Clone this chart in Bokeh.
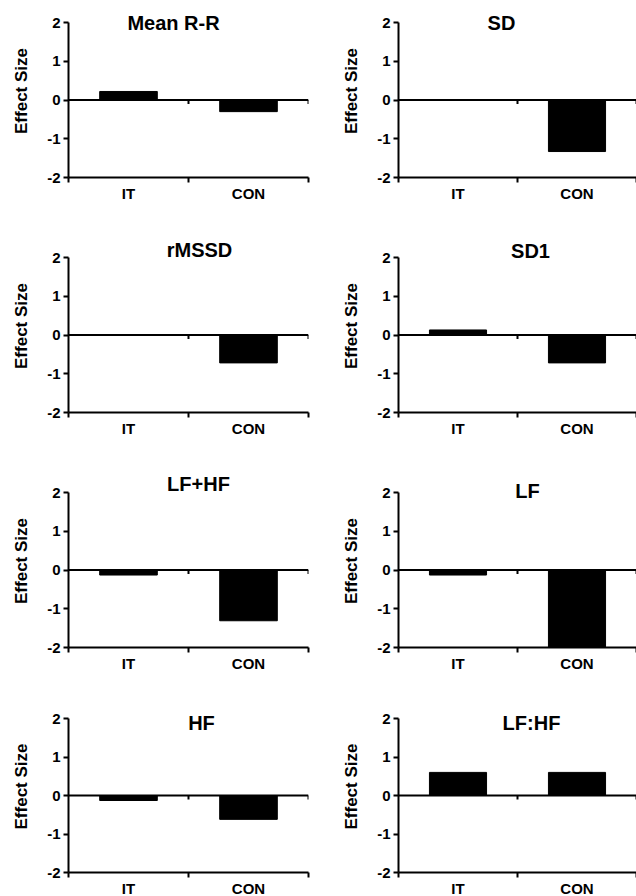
from bokeh.plotting import figure
from bokeh.models import Range1d, FixedTicker, Span, Label, ColumnDataSource
from bokeh.layouts import column, row
from bokeh.embed import file_html
from bokeh.resources import INLINE

# ---- data ----
groups = ["IT", "CON"]
titles = ["Mean R-R", "SD", "rMSSD", "SD1", "LF+HF", "LF", "HF", "LF:HF"]
it_values = [0.22, 0.0, 0.0, 0.13, -0.13, -0.13, -0.13, 0.6]
con_values = [-0.3, -1.33, -0.72, -0.72, -1.31, -2.0, -0.62, 0.6]
y_ticks = [-2, -1, 0, 1, 2]
y_label = "Effect Size"

FONT = "Liberation Sans"

# layout/style per panel
title_dx = [-15, -16, 11, 13, 10, 10, 13, 14]
title_dy = [0, 0, 8, 7, 9, 2, -4, -4]
PAD = 18                      # px of headroom above the "2" tick for titles
ZERO_TICK_PX = 3
row_top = [4, 4, 4, 4]
row_bottom = [58, 58, 49, 22]
row_axis_h = [155, 155, 155, 154]


def make_panel(i):
    r, c = divmod(i, 2)
    n = len(groups)
    xs = [k + 0.5 for k in range(n)]
    vals = [it_values[i], con_values[i]]
    src = ColumnDataSource(dict(x=xs, top=vals, grp=groups))

    ah = row_axis_h[r]
    span = y_ticks[-1] - y_ticks[0]
    upp = span / ah           # data units per pixel
    y_end = y_ticks[-1] + PAD * upp

    left = 68 if c == 0 else 84
    fw = 240 if c == 0 else 238
    right = 6 if c == 0 else 0
    p = figure(frame_width=fw, frame_height=ah + PAD,
               min_border_left=left, min_border_right=right,
               min_border_top=row_top[r], min_border_bottom=row_bottom[r],
               x_range=Range1d(0, n), y_range=Range1d(y_ticks[0], y_end),
               output_backend="svg", toolbar_location=None, tools="")
    p.outline_line_color = None
    p.xgrid.visible = False
    p.ygrid.visible = False
    p.background_fill_color = "white"
    p.border_fill_color = "white"

    p.vbar(x="x", top="top", bottom=0, width=0.48, source=src,
           fill_color="black", line_color="black")

    p.add_layout(Span(location=0, dimension="width", line_color="black", line_width=2))
    # small tick marks on the zero line at category boundaries
    bx = list(range(1, n + 1))
    p.segment(x0=bx, x1=bx, y0=[0] * len(bx), y1=[-ZERO_TICK_PX * upp - 1 * upp] * len(bx),
              line_color="black", line_width=2)

    # y axis
    ya = p.yaxis[0]
    ya.bounds = (y_ticks[0], y_ticks[-1])
    ya.ticker = FixedTicker(ticks=y_ticks)
    ya.major_label_overrides = {t: str(t) for t in y_ticks}
    ya.axis_line_width = 2
    ya.major_tick_line_width = 2
    ya.major_tick_out = 5
    ya.major_tick_in = 0
    ya.minor_tick_line_color = None
    ya.major_label_standoff = 3
    ya.major_label_text_font = FONT
    ya.major_label_text_font_style = "bold"
    ya.major_label_text_font_size = "15px"
    ya.major_label_text_color = "black"
    ya.axis_label = y_label
    ya.axis_label_text_font = FONT
    ya.axis_label_text_font_style = "bold"
    ya.axis_label_text_font_size = "17px"
    ya.axis_label_text_color = "black"
    ya.axis_label_standoff = 13

    # x axis
    xa = p.xaxis[0]
    xa.ticker = FixedTicker(ticks=xs, minor_ticks=list(range(n + 1)))
    xa.major_label_overrides = {x: g for x, g in zip(xs, groups)}
    xa.axis_line_width = 2
    xa.major_tick_line_color = None
    xa.major_tick_out = 0
    xa.major_tick_in = 0
    xa.minor_tick_line_width = 2
    xa.minor_tick_out = 5
    xa.minor_tick_in = 0
    xa.major_label_standoff = 2
    xa.major_label_text_font = FONT
    xa.major_label_text_font_style = "bold"
    xa.major_label_text_font_size = "15px"
    xa.major_label_text_color = "black"

    p.add_layout(Label(x=n / 2, y=y_ticks[-1], x_offset=title_dx[i], y_offset=title_dy[i],
                       text=titles[i], text_align="center", text_baseline="middle",
                       text_font=FONT, text_font_style="bold", text_font_size="20px",
                       text_color="black"))
    return p


panels = [make_panel(i) for i in range(len(titles))]
layout = column(*[row(panels[2 * r], panels[2 * r + 1]) for r in range(4)])

open("out.html", "w").write(file_html(layout, INLINE))
